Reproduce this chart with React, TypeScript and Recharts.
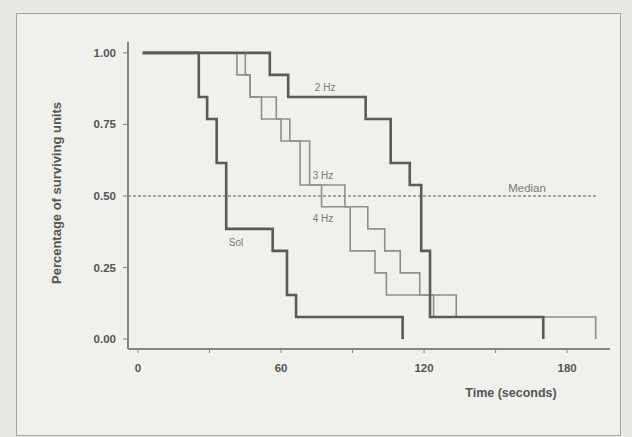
import React from "react";
import { LineChart, Line, XAxis, YAxis, ReferenceLine, ReferenceDot } from "recharts";

// time (s) and survival fraction for each group
const solTimes = [2, 25.5, 29, 33, 37, 56.5, 62.5, 66.3, 111];
const solSurv = [1, 0.846, 0.769, 0.615, 0.385, 0.308, 0.154, 0.077, 0];

const hz2Times = [2, 55.3, 63, 95.5, 106, 114, 118.8, 122.5, 170];
const hz2Surv = [1, 0.923, 0.846, 0.769, 0.615, 0.538, 0.308, 0.077, 0];

const hz3Times = [2, 41.5, 47, 58, 63.7, 72, 86.8, 96.4, 103.5, 110, 118.2, 133.5, 192];
const hz3Surv = [1, 0.923, 0.846, 0.769, 0.692, 0.538, 0.462, 0.385, 0.308, 0.231, 0.154, 0.077, 0];

const hz4Times = [2, 45, 47, 51.8, 60, 68, 77, 89, 99.4, 104.2, 124, 170];
const hz4Surv = [1, 0.923, 0.846, 0.769, 0.692, 0.538, 0.462, 0.308, 0.231, 0.154, 0.077, 0];

const xTicks = [0, 30, 60, 90, 120, 150, 180];
const yTicks = [0, 0.25, 0.5, 0.75, 1];
const medianValue = 0.5;
const medianEnd = 193;

const toPoints = (times: number[], surv: number[]) => times.map((t, i) => ({ t, s: surv[i] }));

const sol = toPoints(solTimes, solSurv);
const hz2 = toPoints(hz2Times, hz2Surv);
const hz3 = toPoints(hz3Times, hz3Surv);
const hz4 = toPoints(hz4Times, hz4Surv);

const DARK = "#5a5a5a";
const LIGHT = "#8e8e8e";
const AXIS = "#858583";
const TEXT = "#555";

const X_MIN = -4.2;
const X_MAX = 198;

const tickStyle = { fontSize: 11.5, fill: TEXT, fontWeight: 700 };
const noteStyle = { fontSize: 10, fill: "#7a7a7a" };

export default function App() {
  return (
    <div
      style={{
        position: "fixed",
        left: 0,
        top: 0,
        width: 632,
        height: 437,
        background: "#e9e9e5",
        overflow: "hidden",
        fontFamily: '"Liberation Sans", Arial, sans-serif',
      }}
    >
      <div
        style={{
          position: "absolute",
          left: 16,
          top: 13,
          width: 603,
          height: 421,
          border: "1.5px solid #a6a6a3",
          background: "#f0f0ec",
        }}
      />
      <div style={{ position: "absolute", left: 0, top: 0 }}>
        <LineChart width={632} height={437} margin={{ top: 42, right: 22, bottom: 48, left: 68 }}>
          <XAxis
            type="number"
            dataKey="t"
            domain={[X_MIN, X_MAX]}
            allowDataOverflow
            ticks={xTicks}
            tickFormatter={(v) => (v % 60 === 0 ? String(v) : "")}
            height={40}
            tickSize={4}
            tickMargin={11}
            tick={tickStyle}
            axisLine={{ stroke: AXIS, strokeWidth: 2 }}
            tickLine={{ stroke: AXIS }}
          />
          <YAxis
            type="number"
            dataKey="s"
            domain={[-0.035, 1.038]}
            allowDataOverflow
            ticks={yTicks}
            tickFormatter={(v) => v.toFixed(2)}
            width={60}
            tickSize={5}
            tickMargin={7}
            tick={tickStyle}
            axisLine={{ stroke: AXIS, strokeWidth: 2 }}
            tickLine={{ stroke: AXIS }}
          />
          <ReferenceLine
            segment={[
              { x: X_MIN, y: medianValue },
              { x: medianEnd, y: medianValue },
            ]}
            stroke="#8a8a88"
            strokeWidth={1.6}
            strokeDasharray="3 2"
          />
          <Line data={hz3} dataKey="s" type="stepAfter" stroke={LIGHT} strokeWidth={1.6} dot={false} isAnimationActive={false} />
          <Line data={hz4} dataKey="s" type="stepAfter" stroke={LIGHT} strokeWidth={1.6} dot={false} isAnimationActive={false} />
          <Line data={hz2} dataKey="s" type="stepAfter" stroke={DARK} strokeWidth={2.6} dot={false} isAnimationActive={false} />
          <Line data={sol} dataKey="s" type="stepAfter" stroke={DARK} strokeWidth={2.6} dot={false} isAnimationActive={false} />
          <ReferenceDot x={78.5} y={0.878} r={0} fill="none" stroke="none" label={{ value: "2 Hz", position: "center", ...noteStyle }} />
          <ReferenceDot x={77.6} y={0.57} r={0} fill="none" stroke="none" label={{ value: "3 Hz", position: "center", ...noteStyle }} />
          <ReferenceDot x={77.6} y={0.423} r={0} fill="none" stroke="none" label={{ value: "4 Hz", position: "center", ...noteStyle }} />
          <ReferenceDot x={41.1} y={0.339} r={0} fill="none" stroke="none" label={{ value: "Sol", position: "center", ...noteStyle }} />
          <ReferenceDot x={163.2} y={0.528} r={0} fill="none" stroke="none" label={{ value: "Median", position: "center", fontSize: 11.5, fill: "#7a7a7a" }} />
        </LineChart>
      </div>
      <div
        style={{
          position: "absolute",
          left: 56,
          top: 193,
          transform: "translate(-50%, -50%) rotate(-90deg)",
          whiteSpace: "nowrap",
          fontSize: 13,
          fontWeight: 700,
          color: TEXT,
        }}
      >
        Percentage of surviving units
      </div>
      <div
        style={{
          position: "absolute",
          left: 511,
          top: 393,
          transform: "translate(-50%, -50%)",
          whiteSpace: "nowrap",
          fontSize: 12.5,
          fontWeight: 700,
          color: TEXT,
        }}
      >
        Time (seconds)
      </div>
    </div>
  );
}
